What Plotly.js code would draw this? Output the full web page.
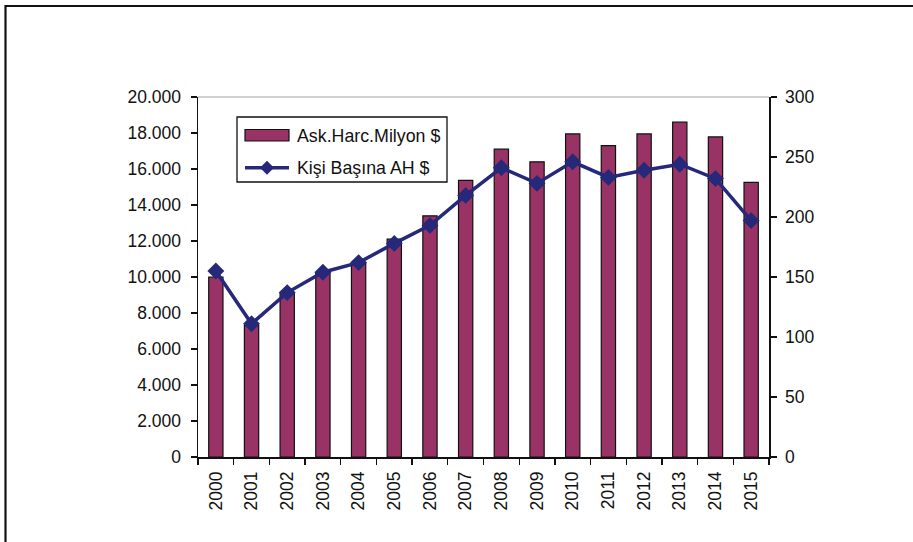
<!DOCTYPE html>
<html>
<head>
<meta charset="utf-8">
<script src="https://cdn.plot.ly/plotly-3.0.1.min.js"></script>
<style>
html,body{margin:0;padding:0;background:#fff;}
#chart{width:913px;height:542px;}
</style>
</head>
<body>
<div id="chart"></div>
<script>
// ---- data ----
var years = ['2000','2001','2002','2003','2004','2005','2006','2007','2008','2009','2010','2011','2012','2013','2014','2015'];
var spendingMillion = [10000, 7300, 9100, 10250, 10750, 12100, 13400, 15370, 17100, 16400, 17950, 17300, 17950, 18600, 17780, 15260];
var perCapita = [155, 111, 137, 154, 162, 178, 193, 218, 241, 228, 246, 233, 239, 244, 232, 197];
var seriesNames = ['Ask.Harc.Milyon $', 'Kişi Başına AH $'];

// ---- geometry helpers (plot area in pixels) ----
var W = 913, H = 542;
var L = 198, R = 769, T = 97, B = 457;
function px(x){ return (x - L) / (R - L); }
function py(y){ return (B - y) / (B - T); }

var barColor = '#993366';
var lineColor = '#26287a';
var font = 'Arial, "Liberation Sans", sans-serif';

var traces = [
  {
    type: 'bar', x: years, y: spendingMillion, name: seriesNames[0],
    marker: {color: barColor, line: {color: '#111', width: 1.2}},
    width: 0.4, xaxis: 'x', yaxis: 'y', hoverinfo: 'x+y'
  },
  {
    type: 'scatter', mode: 'lines+markers', x: years, y: perCapita, name: seriesNames[1],
    line: {color: lineColor, width: 3.5},
    marker: {symbol: 'diamond', size: 13, color: lineColor},
    xaxis: 'x', yaxis: 'y2', cliponaxis: false
  }
];

// legend (drawn manually to match wide swatches)
var legX0 = px(237), legX1 = px(447), legY0 = py(117), legY1 = py(182);
var dX = 267, dY = 167.7, dr = 7;
var diamondPath = 'M ' + px(dX) + ' ' + py(dY - dr) + ' L ' + px(dX + dr) + ' ' + py(dY) +
                  ' L ' + px(dX) + ' ' + py(dY + dr) + ' L ' + px(dX - dr) + ' ' + py(dY) + ' Z';

var shapes = [
  // outer frame (top & left edges visible)
  {type: 'line', xref: 'paper', yref: 'paper', x0: px(5), x1: px(920), y0: py(6), y1: py(6), line: {color: '#111', width: 2.2}},
  {type: 'line', xref: 'paper', yref: 'paper', x0: px(5.5), x1: px(5.5), y0: py(5), y1: py(550), line: {color: '#111', width: 2.2}},
  // light top border of plot area
  {type: 'line', xref: 'paper', yref: 'paper', x0: 0, x1: 1, y0: 1, y1: 1, line: {color: '#a0a0a0', width: 1}},
  // legend box
  {type: 'rect', xref: 'paper', yref: 'paper', x0: legX0, x1: legX1, y0: legY0, y1: legY1,
   line: {color: '#111', width: 1.3}, fillcolor: '#fff'},
  // legend bar swatch
  {type: 'rect', xref: 'paper', yref: 'paper', x0: px(245), x1: px(289), y0: py(129.5), y1: py(141),
   line: {color: '#111', width: 1.2}, fillcolor: barColor},
  // legend line swatch
  {type: 'line', xref: 'paper', yref: 'paper', x0: px(245), x1: px(289), y0: py(dY), y1: py(dY),
   line: {color: lineColor, width: 3.5}},
  {type: 'path', xref: 'paper', yref: 'paper', path: diamondPath, fillcolor: lineColor, line: {color: lineColor, width: 0}}
];

var annotations = [
  {xref: 'paper', yref: 'paper', x: px(295), y: py(136), xanchor: 'left', yanchor: 'middle',
   text: seriesNames[0], showarrow: false, font: {family: font, size: 17.8, color: '#111'}},
  {xref: 'paper', yref: 'paper', x: px(295), y: py(167.5), xanchor: 'left', yanchor: 'middle',
   text: seriesNames[1], showarrow: false, font: {family: font, size: 17.8, color: '#111'}}
];

var tickFont = {family: font, size: 17.5, color: '#111'};

var layout = {
  width: W, height: H,
  margin: {l: L, r: W - R, t: T, b: H - B, pad: 0},
  paper_bgcolor: '#fff', plot_bgcolor: '#fff',
  separators: ',.',
  showlegend: false,
  bargap: 0.6,
  font: {family: font, color: '#111'},
  xaxis: {
    type: 'category', range: [-0.5, 15.5], showgrid: false, zeroline: false,
    showline: true, linecolor: '#111', linewidth: 1.5,
    ticks: 'outside', ticklen: 6, tickwidth: 1.3, tickcolor: '#111', tickson: 'boundaries',
    tickangle: -90, tickfont: tickFont, ticklabelstandoff: 6
  },
  xaxis2: {
    overlaying: 'x', anchor: 'y', side: 'bottom', range: [-0.5, 15.5],
    tick0: -0.5, dtick: 1, ticks: 'inside', ticklen: 5, tickwidth: 1.3, tickcolor: '#111',
    showticklabels: false, showgrid: false, zeroline: false, showline: false
  },
  yaxis: {
    range: [0, 20000], dtick: 2000, tick0: 0, showgrid: false, zeroline: false,
    showline: true, linecolor: '#111', linewidth: 1.5,
    ticks: 'outside', ticklen: 6, tickwidth: 1.3, tickcolor: '#111',
    separatethousands: true, exponentformat: 'none', tickformat: ',d',
    tickfont: tickFont, ticklabelstandoff: 6
  },
  yaxis3: {
    overlaying: 'y', anchor: 'x', side: 'left', range: [0, 20000], dtick: 2000, tick0: 0,
    ticks: 'inside', ticklen: 5, tickwidth: 1.3, tickcolor: '#111',
    showticklabels: false, showgrid: false, zeroline: false, showline: false
  },
  yaxis2: {
    overlaying: 'y', side: 'right', anchor: 'x', range: [0, 300], dtick: 50, tick0: 0,
    showgrid: false, zeroline: false, showline: true, linecolor: '#111', linewidth: 1.5,
    ticks: 'outside', ticklen: 6, tickwidth: 1.3, tickcolor: '#111',
    tickfont: tickFont, ticklabelstandoff: 5
  },
  yaxis4: {
    overlaying: 'y', side: 'right', anchor: 'x', range: [0, 300], dtick: 50, tick0: 0,
    ticks: 'inside', ticklen: 5, tickwidth: 1.3, tickcolor: '#111',
    showticklabels: false, showgrid: false, zeroline: false, showline: false
  },
  shapes: shapes,
  annotations: annotations
};

Plotly.newPlot('chart', traces, layout, {displayModeBar: false, staticPlot: true});
</script>
</body>
</html>
